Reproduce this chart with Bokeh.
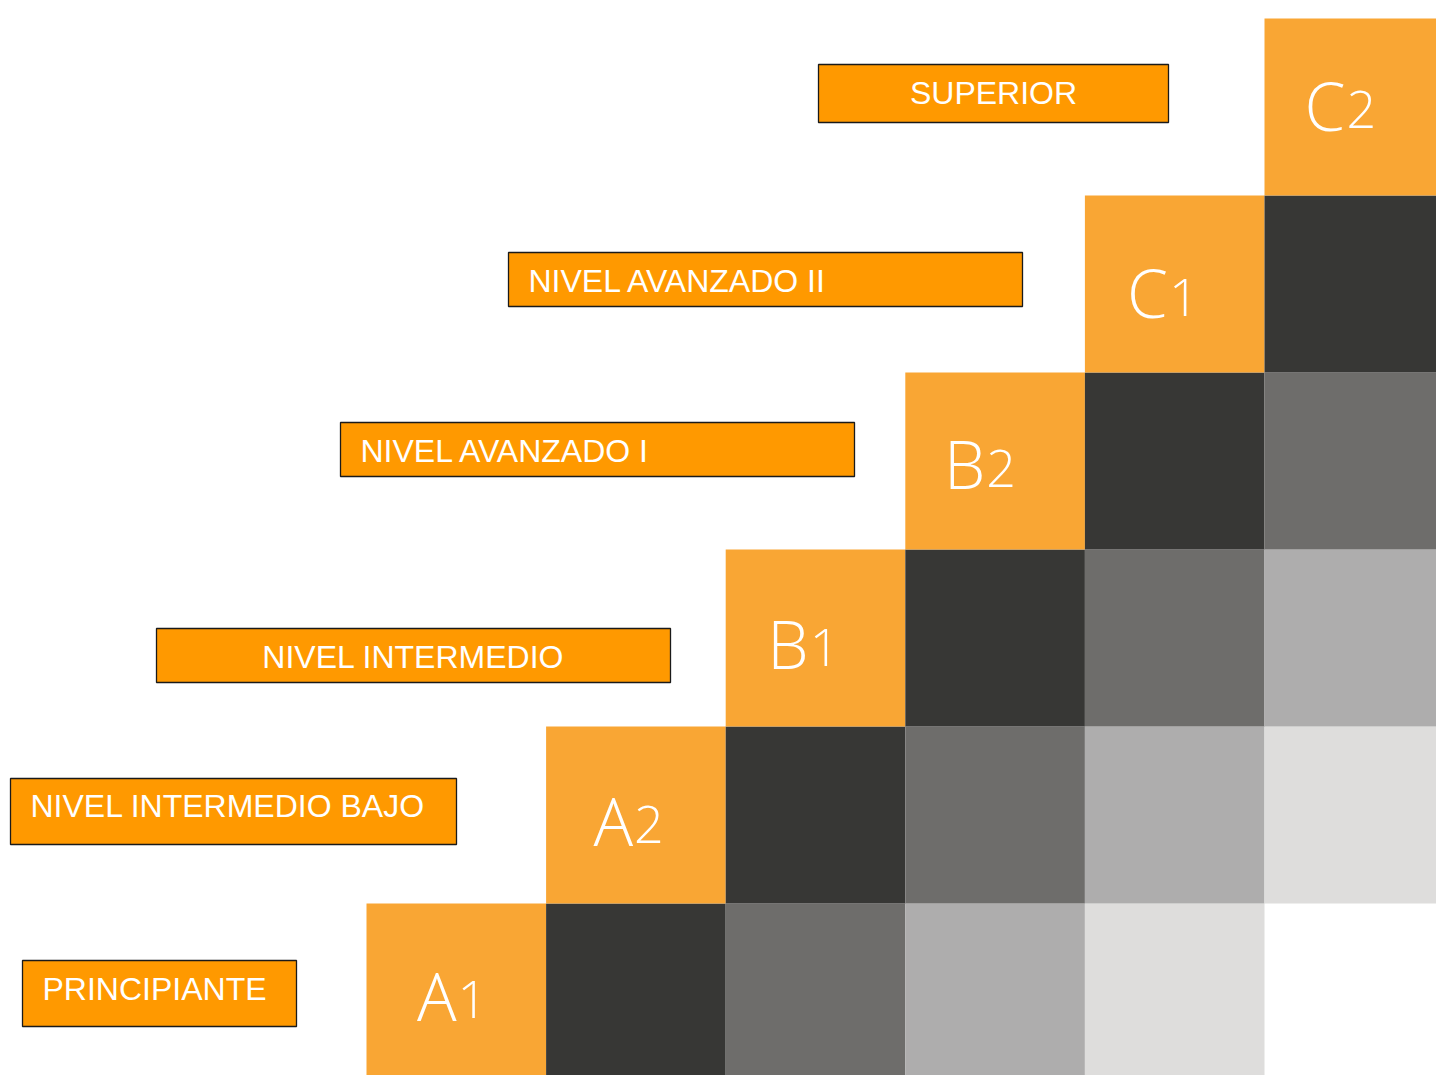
from bokeh.plotting import figure
from bokeh.models import Range1d
from bokeh.core.properties import value
from bokeh.embed import file_html
from bokeh.resources import INLINE

# ---- data ----
levels = ["A1", "A2", "B1", "B2", "C1", "C2"]
level_names = ["PRINCIPIANTE", "NIVEL INTERMEDIO BAJO", "NIVEL INTERMEDIO",
               "NIVEL AVANZADO I", "NIVEL AVANZADO II", "SUPERIOR"]
shades = ["#F9A634", "#373735", "#6E6D6B", "#AEADAD", "#DEDDDC"]

# ---- layout (screen pixel coordinates) ----
grid_left, grid_top = 366, 18
cw, ch = 179.6, 177.0
n = len(levels)
grid_bottom = grid_top + n * ch
# per-level code placement inside the orange cell: (cap centre offset, letter right offset)
code_pos = [(91, 90), (93, 87), (93, 83), (90.5, 80), (96.5, 83), (86, 81)]

# label boxes: (x0, y0, x1, y1, text_x, cap_centre_y, align)
boxes = [
    (22, 960, 296, 1026, 42, 988, "left"),
    (10, 778, 456, 844, 30, 805.5, "left"),
    (156, 628, 670, 682, 413, 656, "center"),
    (340, 422, 854, 476, 360, 450, "left"),
    (508, 252, 1022, 306, 528, 280, "left"),
    (818, 64, 1168, 122, 993, 92.5, "center"),
]

W, H = 1436, 1075
p = figure(width=W, height=H, output_backend="svg", toolbar_location=None,
           x_range=Range1d(0, W), y_range=Range1d(H, 0),
           min_border=0, outline_line_color=None)
p.axis.visible = False
p.grid.visible = False
p.background_fill_color = "white"

# staircase cells
x0s, x1s, y0s, y1s, cols = [], [], [], [], []
for r in range(n):
    yb = grid_bottom - r * ch
    yt = yb - ch
    for c in range(r, n):
        k = c - r
        if k >= len(shades):
            continue
        x0s.append(grid_left + c * cw)
        x1s.append(grid_left + (c + 1) * cw)
        y0s.append(yt)
        y1s.append(yb)
        cols.append(shades[k])
p.quad(left=x0s, right=x1s, top=y0s, bottom=y1s, fill_color=cols, line_color=None)

# level codes in orange cells
lx, ly, lt, dx, dy, dt = [], [], [], [], [], []
for r, lv in enumerate(levels):
    left = grid_left + r * cw
    top = grid_bottom - (r + 1) * ch
    cy, rx = code_pos[r]
    base = top + cy + 24
    lx.append(left + rx); ly.append(top + cy); lt.append(lv[0])
    dx.append(left + rx + 1); dy.append(base - 19); dt.append(lv[1])
code_font = value("Open Sans Light, Roboto Light, Open Sans")
p.text(x=lx, y=ly, text=lt, text_align="right", text_baseline="middle",
       text_color="white", text_font=code_font, text_font_size="66px")
p.text(x=dx, y=dy, text=dt, text_align="left", text_baseline="middle",
       text_color="white", text_font=code_font, text_font_size="52px")

# label boxes
for (x0, y0, x1, y1, tx, ty, al), name in zip(boxes, level_names):
    p.quad(left=[x0], right=[x1], top=[y0], bottom=[y1], fill_color="#FF9900",
           line_color="#1a1a1a", line_width=1.3)
    p.text(x=[tx], y=[ty], text=[name], text_align=al, text_baseline="middle",
           text_color="white", text_font=value("Liberation Sans"), text_font_size="32px")

open("out.html", "w").write(file_html(p, INLINE))
